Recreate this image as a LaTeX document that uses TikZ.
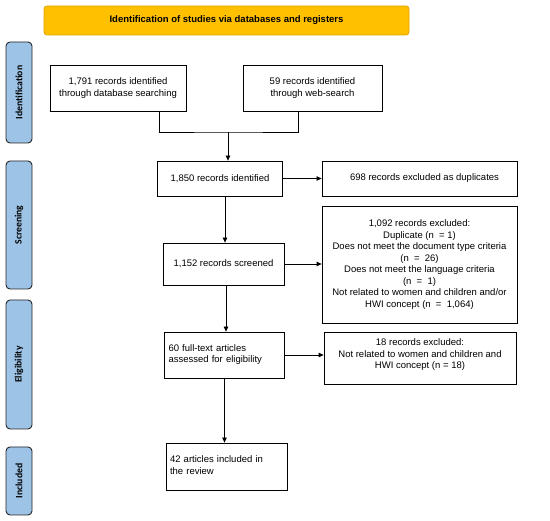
\documentclass[tikz,border=0pt]{standalone}
\usepackage{fontspec}
\setmainfont{Liberation Sans}
\newfontfamily\stagefont{Carlito}
\usepackage{tikz}
\usetikzlibrary{arrows.meta,positioning,calc}

\definecolor{titlefill}{HTML}{FFC000}
\definecolor{titledraw}{HTML}{E3A200}
\definecolor{stagefill}{HTML}{9DC3E6}

\begin{document}
\begin{tikzpicture}[x=1pt, y=-1pt,
    box/.style={draw, line width=0.8pt, align=center, inner sep=2pt, font=\fontsize{9.5}{11.5}\selectfont},
    lbox/.style={box, align=left},
    stage/.style={draw=black!85, line width=0.9pt, fill=stagefill, rounded corners=4pt, rotate=90, minimum height=26pt, inner sep=0pt, font=\stagefont\bfseries\fontsize{9.7}{11}\selectfont},
    arr/.style={-{Triangle[length=5pt, width=4.5pt]}, line width=0.8pt}
]
\useasboundingbox (0,0) rectangle (550,521);

% header and phases
\node[draw=titledraw, line width=0.8pt, fill=titlefill, rounded corners=3pt, minimum width=365pt, minimum height=29pt, font=\bfseries\fontsize{9.5}{11}\selectfont] (head) at (226.5,20.5) {Identification of studies via databases and registers};
\node[stage, minimum width=101pt] (sid) at (19,92.5) {Identification};
\node[stage, minimum width=128pt] (sscr) at (19,225) {Screening};
\node[stage, minimum width=129pt] (selig) at (19,364.5) {Eligibility};
\node[stage, minimum width=68pt] (sinc) at (19,481) {Included};

% records
\node[box, minimum width=136pt, minimum height=46pt] (db) at (118,88) {1,791 records identified\\through database searching};
\node[box, minimum width=139pt, minimum height=46pt] (web) at (312.5,88) {59 records identified\\through web-search};
\node[box, minimum width=125pt, minimum height=35pt] (ident) at (220,178.5) {1,850 records identified};
\node[box, minimum width=195pt, minimum height=35pt] (dup) at (419.5,178.5) {\hspace{10pt}698 records excluded as duplicates};
\node[box, minimum width=121pt, minimum height=42pt] (scr) at (223.5,264) {1,152 records screened};
\node[box, minimum width=195pt, minimum height=117pt] (excl) at (419.5,264.5) {1,092 records excluded:\\Duplicate (n \ = 1)\\Does not meet the document type criteria\\(n \ = \ 26)\\Does not meet the language criteria\\(n \ = \ 1)\\Not related to women and children and/or\\HWI concept (n \ = \ 1,064)};
\node[lbox, minimum width=120pt, minimum height=46pt, text width=112pt, text depth=14pt] (elig) at (224.5,355) {60 full-text articles\\assessed for eligibility};
\node[box, minimum width=192pt, minimum height=52pt, text depth=8pt] (excl2) at (420,358) {18 records excluded:\\Not related to women and children and\\HWI concept (n = 18)};
\node[lbox, minimum width=121pt, minimum height=47pt, text width=113pt, text depth=14pt] (incl) at (226.5,466.5) {42 articles included in\\the review};

% connectors
\coordinate (join) at (228,132);
\draw[line width=0.8pt] ([xshift=41pt]db.south) |- (join) -| ([xshift=-14.5pt]web.south);
\draw[arr] (join) -- (join |- ident.north);
\draw[arr] (ident.east) -- (dup.west);
\draw[arr] ([xshift=5pt]ident.south) -- ([xshift=5pt]ident.south |- scr.north);
\draw[arr] (scr.east) -- (scr.east -| excl.west);
\draw[arr] ([xshift=2.5pt]scr.south) -- ([xshift=2.5pt]scr.south |- elig.north);
\draw[arr] (elig.east) -- (elig.east -| excl2.west);
\draw[arr] (elig.south) -- (elig.south |- incl.north);
\end{tikzpicture}
\end{document}
